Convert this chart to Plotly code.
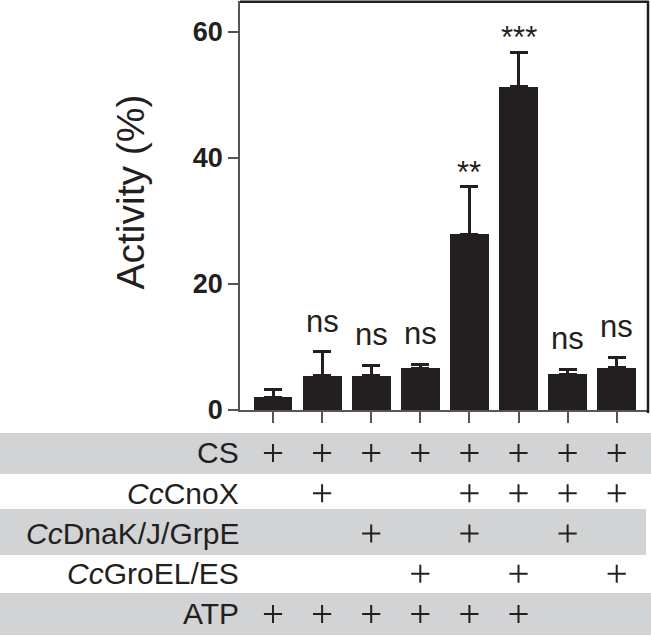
import plotly.graph_objects as go

# ---- data ----
conditions = ["CS", "<i>Cc</i>CnoX", "<i>Cc</i>DnaK/J/GrpE", "<i>Cc</i>GroEL/ES", "ATP"]
activity = [2.0, 5.45, 5.45, 6.6, 27.9, 51.3, 5.65, 6.7]
sem = [1.2, 3.8, 1.65, 0.65, 7.5, 5.5, 0.8, 1.65]
significance = ["", "ns", "ns", "ns", "**", "***", "ns", "ns"]
cs_present = [1, 1, 1, 1, 1, 1, 1, 1]
cnox_present = [0, 1, 0, 0, 1, 1, 1, 1]
dnak_present = [0, 0, 1, 0, 1, 0, 1, 0]
groel_present = [0, 0, 0, 1, 0, 1, 0, 1]
atp_present = [1, 1, 1, 1, 1, 1, 0, 0]
y_ticks = [0, 20, 40, 60]

presence = [cs_present, cnox_present, dnak_present, groel_present, atp_present]

INK = "#231f20"
AXIS = "#555555"
BAND = "#d1d3d4"
FONT = "Liberation Sans, Arial, sans-serif"

W, H = 651, 637
ML, MR, MT, MB = 240, 3, 1, 0
plot_w = W - ML - MR
plot_h = H - MT - MB
bar_bottom_px = 410
dom_split = (H - bar_bottom_px) / plot_h

x_idx = list(range(len(activity)))

fig = go.Figure()

fig.add_trace(go.Bar(
    x=x_idx, y=activity, width=0.79,
    marker=dict(color=INK, line=dict(width=0)),
    error_y=dict(type="data", symmetric=False, array=sem,
                 arrayminus=[0] * len(sem), thickness=3, width=9, color=INK),
    xaxis="x", yaxis="y", showlegend=False, cliponaxis=False,
))

for r, row in enumerate(presence):
    xs = [i for i, p in enumerate(row) if p]
    fig.add_trace(go.Scatter(
        x=xs, y=[r] * len(xs), mode="markers",
        marker=dict(symbol="cross-thin", size=13,
                    line=dict(width=2, color=INK), color=INK),
        xaxis="x", yaxis="y2", showlegend=False, hoverinfo="skip",
        cliponaxis=False,
    ))

annotations = []
for i, lab in enumerate(significance):
    if not lab:
        continue
    is_star = "*" in lab
    annotations.append(dict(
        x=i, y=activity[i] + sem[i], xref="x", yref="y",
        text=lab, showarrow=False, yanchor="bottom",
        yshift=(-5 if is_star else 11),
        font=dict(family=FONT, size=31, color=INK),
    ))

for r, lab in enumerate(conditions):
    annotations.append(dict(
        x=0, y=r, xref="paper", yref="y2", text=lab, showarrow=False,
        xanchor="right", yanchor="middle", xshift=1,
        font=dict(family=FONT, size=30, color=INK),
    ))

annotations.append(dict(
    x=(130 - ML) / plot_w, y=(H - 192.5) / plot_h, xref="paper", yref="paper",
    text="Activity (%)", textangle=-90, showarrow=False,
    xanchor="center", yanchor="middle",
    font=dict(family=FONT, size=39, color=INK),
))

shapes = []
# gray bands in the table
band_rows = [(-0.497, 0.522, 1.008), (1.392, 2.535, 0.995), (3.479, 4.523, 1.008)]
for y0, y1, xr in band_rows:
    shapes.append(dict(type="rect", xref="paper", yref="y2",
                       x0=-ML / plot_w, x1=xr, y0=y0, y1=y1,
                       fillcolor=BAND, line=dict(width=0), layer="below"))
# frame top and right (paper-referenced so they are not clipped)
shapes.append(dict(type="line", xref="paper", yref="paper",
                   x0=0, x1=1.002, y0=0.999, y1=0.999,
                   line=dict(color=INK, width=2.5)))
shapes.append(dict(type="line", xref="paper", yref="paper",
                   x0=1, x1=1, y0=(H - 413) / plot_h, y1=1,
                   line=dict(color=INK, width=2.5)))

fig.update_layout(
    width=W, height=H, autosize=False,
    margin=dict(l=ML, r=MR, t=MT, b=MB, pad=0, autoexpand=False),
    paper_bgcolor="white", plot_bgcolor="white",
    bargap=0,
    xaxis=dict(range=[-0.672, 7.637], anchor="y", tickvals=x_idx,
               showticklabels=False, ticks="outside", ticklen=11,
               tickwidth=1.5, tickcolor=AXIS, showline=True,
               linecolor=AXIS, linewidth=1.5, showgrid=False,
               zeroline=False, fixedrange=True, automargin=False),
    yaxis=dict(domain=[dom_split, 1], range=[0, 64.9], anchor="x",
               tickvals=y_ticks, ticks="outside", ticklen=10,
               tickwidth=1.5, tickcolor=AXIS, showline=True,
               linecolor=AXIS, linewidth=1.5, showgrid=False,
               zeroline=False, automargin=False,
               tickfont=dict(family=FONT, size=27, color=INK, weight="bold")),
    yaxis2=dict(domain=[0, dom_split], range=[4.572, -1.068], anchor="x",
                showticklabels=False, showgrid=False, zeroline=False,
                showline=False, ticks="", automargin=False),
    annotations=annotations,
    shapes=shapes,
    font=dict(family=FONT, color=INK),
)

fig.write_html(
    "out.html",
    config={"responsive": False, "displayModeBar": False},
    post_script="document.body.style.margin='0';document.body.style.overflow='hidden';",
)
